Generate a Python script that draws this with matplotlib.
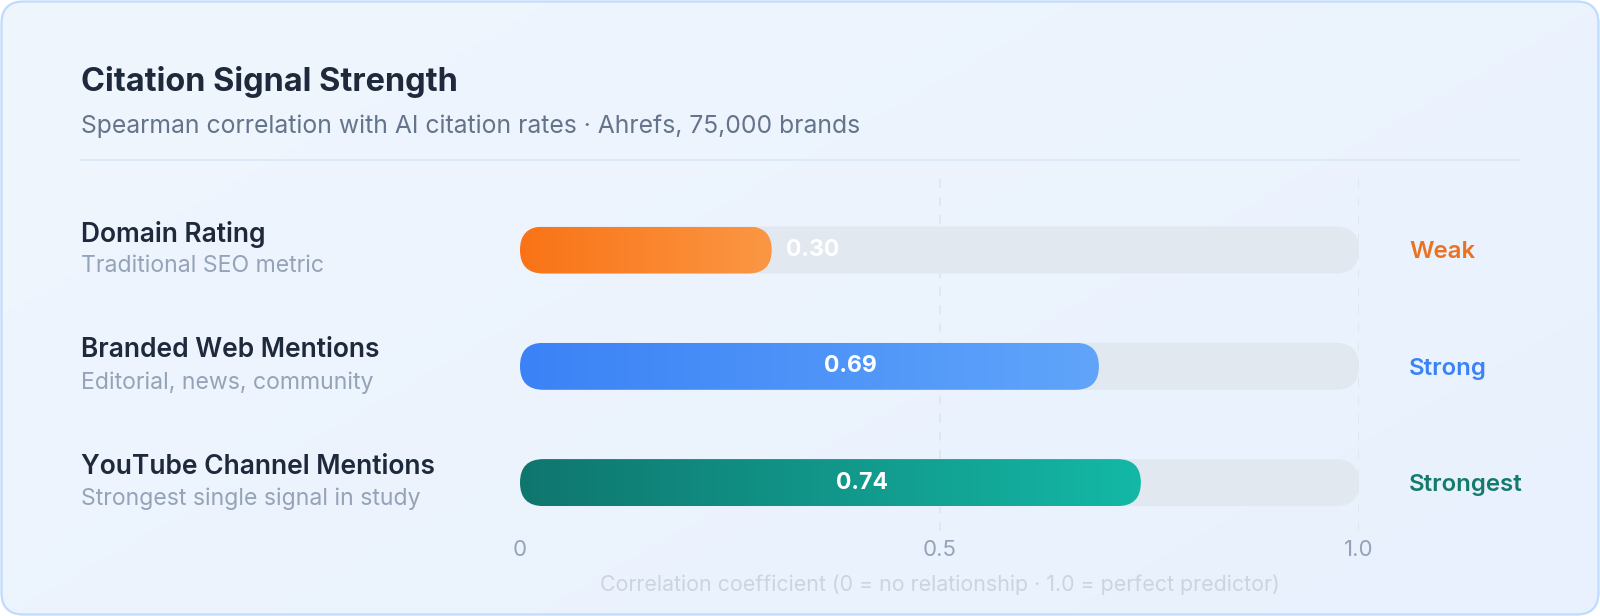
import numpy as np
import matplotlib
matplotlib.use("Agg")
import matplotlib.pyplot as plt
from matplotlib.patches import FancyBboxPatch
from matplotlib.colors import LinearSegmentedColormap

# ---------------- data ----------------
metrics = ["Domain Rating", "Branded Web Mentions", "YouTube Channel Mentions"]
descriptions = ["Traditional SEO metric", "Editorial, news, community", "Strongest single signal in study"]
values = [0.30, 0.69, 0.74]
tiers = ["Weak", "Strong", "Strongest"]
tick_values = [0, 0.5, 1.0]
tick_labels = ["0", "0.5", "1.0"]
title = "Citation Signal Strength"
subtitle = "Spearman correlation with AI citation rates \u00b7 Ahrefs, 75,000 brands"
xlabel = "Correlation coefficient (0 = no relationship \u00b7 1.0 = perfect predictor)"

# ---------------- styles ----------------
grad_colors = [("#f97316", "#fb9744"), ("#3b82f6", "#60a5fa"), ("#0f766e", "#14b8a6")]
tier_colors = ["#ea7323", "#3b82f6", "#137a6c"]
FONT = ["Inter", "DejaVu Sans"]
W, H = 1600, 616

fig = plt.figure(figsize=(W / 100, H / 100), dpi=100)
fig.patch.set_facecolor("white")

# background card
bg = fig.add_axes([0, 0, 1, 1])
bg.set_xlim(0, W)
bg.set_ylim(H, 0)
bg.axis("off")
card = FancyBboxPatch((1.5, 1.5), W - 3, H - 3, boxstyle="round,pad=0,rounding_size=22",
                      facecolor="none", edgecolor="#bfdbfe", linewidth=1.6, zorder=3)
bg.add_patch(card)
yy, xx = np.mgrid[0:1:60j, 0:1:160j]
t = (xx * 0.6 + yy * 0.4)
cmap_bg = LinearSegmentedColormap.from_list("bg", ["#f0f6fe", "#e8f1fd"])
im = bg.imshow(t, cmap=cmap_bg, extent=(0, W, H, 0), aspect="auto", zorder=1, interpolation="bilinear")
clip = FancyBboxPatch((1.5, 1.5), W - 3, H - 3, boxstyle="round,pad=0,rounding_size=22",
                      facecolor="none", edgecolor="none", transform=bg.transData)
bg.add_patch(clip)
im.set_clip_path(clip)

def px(x, y):
    return x / W, 1 - y / H

LX = 81
# title / subtitle / divider
fig.text(*px(LX, 82), title, family=FONT, fontsize=23.4, fontweight="bold", color="#1e293b", va="center", ha="left")
fig.text(*px(LX, 126), subtitle, family=FONT, fontsize=17.8, color="#64748b", va="center", ha="left")
bg.plot([LX, 1520], [160, 160], color="#dbe7f6", lw=1.2, zorder=2)

# main axes: x 0..1 maps to px 520..1359; y from px 175 to 531
x0_px, x1_px = 520, 1359
top_px, bot_px = 175, 531
ax = fig.add_axes([x0_px / W, 1 - bot_px / H, (x1_px - x0_px) / W, (bot_px - top_px) / H])
ax.patch.set_alpha(0)
row_px = 116.3
row0 = 250.0
ax.set_xlim(0, 1)
ax.set_ylim((bot_px - row0) / row_px, -(row0 - top_px) / row_px)
for s in ax.spines.values():
    s.set_visible(False)
ax.tick_params(axis="y", left=False, labelleft=False)
ax.tick_params(axis="x", bottom=False, pad=3, labelsize=16, labelcolor="#94a3b8")
ax.set_xticks(tick_values)
ax.set_xticklabels(tick_labels, family=FONT)

for xv in tick_values[1:]:
    ax.axvline(xv, color="#dfe6ef", lw=1.3, linestyle=(0, (5, 5)), zorder=0)

xw = x1_px - x0_px
bar_h = 47 / row_px
aspect = xw / row_px
r = 23.5 / xw

for i, (v, (c0, c1)) in enumerate(zip(values, grad_colors)):
    track = FancyBboxPatch((0, i - bar_h / 2), 1.0, bar_h, boxstyle=f"round,pad=0,rounding_size={r}",
                           mutation_aspect=aspect, facecolor="#e2e8f0", edgecolor="none", zorder=1)
    ax.add_patch(track)
    bar = FancyBboxPatch((0, i - bar_h / 2), v, bar_h, boxstyle=f"round,pad=0,rounding_size={r}",
                         mutation_aspect=aspect, facecolor="none", edgecolor="none", zorder=2)
    ax.add_patch(bar)
    cm = LinearSegmentedColormap.from_list(f"g{i}", [c0, c1])
    g = ax.imshow(np.linspace(0, 1, 256)[None, :], cmap=cm, extent=(0, v, i + bar_h / 2, i - bar_h / 2),
                  aspect="auto", zorder=2, interpolation="bilinear")
    g.set_clip_path(bar)
    if v < 0.5:
        lx = v + 0.049
    else:
        lx = v * 0.27 + 0.208
    ax.text(lx, i, f"{v:.2f}", family=FONT, fontsize=16.6, fontweight="bold", color="white",
            ha="center", va="center", zorder=4)
    # left labels
    fig.text(*px(LX, row0 + i * row_px - 16), metrics[i], family=FONT, fontsize=19, fontweight="semibold",
             color="#1e293b", va="center", ha="left")
    fig.text(*px(LX, row0 + i * row_px + 16.5), descriptions[i], family=FONT, fontsize=16.6,
             color="#94a3b8", va="center", ha="left")
    # tier labels
    fig.text(*px(1409, row0 + i * row_px + 2.5), tiers[i], family=FONT, fontsize=17.3, fontweight="semibold",
             color=tier_colors[i], va="center", ha="left")

fig.text(*px((x0_px + x1_px) / 2, 585), xlabel, family=FONT, fontsize=15.4, color="#cbd5e1",
         ha="center", va="center")
ax.set_xlim(0, 1)

fig.savefig("out.png", dpi=100, facecolor="white")
